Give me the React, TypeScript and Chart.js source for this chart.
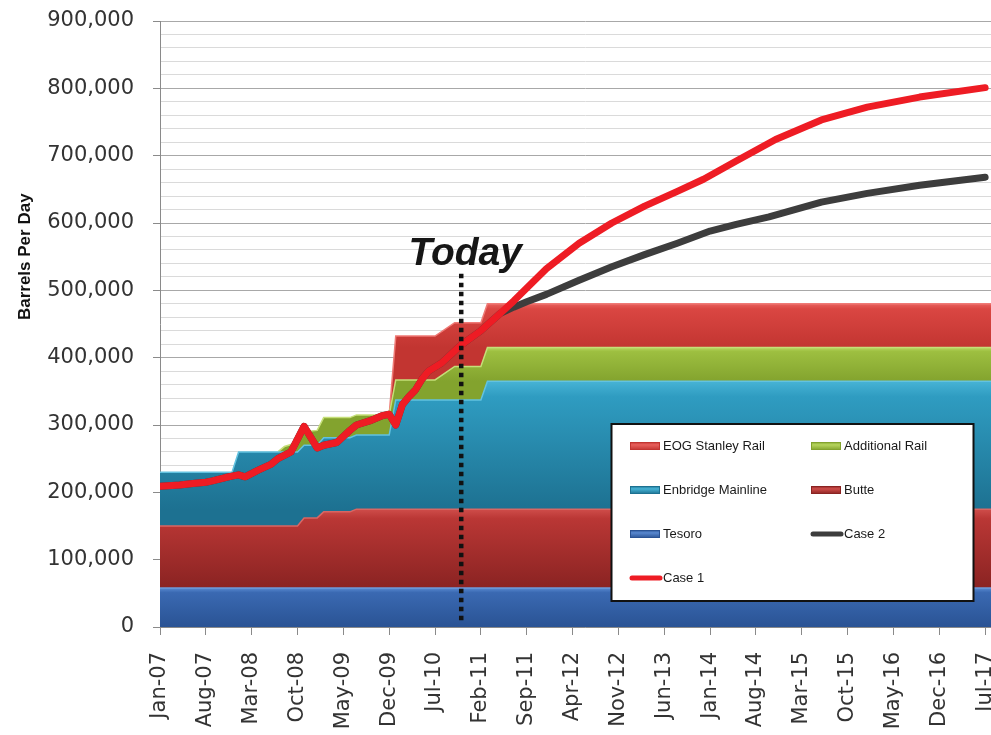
import React, { useEffect, useRef } from "react";
import { Chart, registerables } from "chart.js";

Chart.register(...registerables);

// ---- axis ticks ----
const tickMonths = [0, 7, 14, 21, 28, 35, 42, 49, 56, 63, 70, 77, 84, 91, 98, 105, 112, 119, 126];
const tickLabels = [
  "Jan-07", "Aug-07", "Mar-08", "Oct-08", "May-09", "Dec-09", "Jul-10", "Feb-11", "Sep-11",
  "Apr-12", "Nov-12", "Jun-13", "Jan-14", "Aug-14", "Mar-15", "Oct-15", "May-16", "Dec-16", "Jul-17",
];

// ---- stacked capacity areas (month index from Jan-07, barrels per day) ----
const areaMonths = [0, 11, 12, 18, 19, 21, 22, 24, 25, 29, 30, 35, 36, 42, 45, 49, 50, 127];
const tesoro = [58000, 58000, 58000, 58000, 58000, 58000, 58000, 58000, 58000, 58000, 58000, 58000, 58000, 58000, 58000, 58000, 58000, 58000];
const butte = [92000, 92000, 92000, 92000, 92000, 92000, 104000, 104000, 113000, 113000, 117000, 117000, 117000, 117000, 117000, 117000, 117000, 117000];
const enbridge = [80000, 80000, 110000, 110000, 110000, 110000, 108000, 108000, 110000, 110000, 110000, 110000, 162000, 162000, 162000, 162000, 190000, 190000];
const additionalRail = [0, 0, 0, 0, 8000, 14000, 20000, 22000, 30000, 30000, 30000, 30000, 30000, 30000, 50000, 50000, 50000, 50000];
const eogStanley = [0, 0, 0, 0, 0, 0, 0, 0, 0, 0, 0, 0, 65000, 65000, 65000, 65000, 65000, 65000];

// ---- production cases ----
const case1Months = [0, 3, 5, 7, 8, 10, 11, 12, 13, 15, 17, 18, 20, 22, 24, 25, 27, 29, 30, 32, 34, 35, 36, 37, 38, 39, 40, 41, 43, 46, 49, 52, 54, 59, 64, 69, 74, 79, 83, 88, 94, 101, 108, 116, 126];
const case1Values = [209000, 211000, 213000, 215000, 217000, 222000, 224000, 226000, 223000, 233000, 242000, 250000, 260000, 298000, 266000, 270000, 274000, 292000, 300000, 306000, 314000, 316000, 300000, 330000, 342000, 352000, 368000, 380000, 392000, 419000, 440000, 466000, 484000, 532000, 570000, 600000, 625000, 647000, 665000, 692000, 724000, 753000, 772000, 787000, 801000];
const case2Months = [0, 3, 5, 7, 8, 10, 11, 12, 13, 15, 17, 18, 20, 22, 24, 25, 27, 29, 30, 32, 34, 35, 36, 37, 38, 39, 40, 41, 43, 46, 49, 52, 54, 56, 59, 64, 69, 74, 79, 84, 88, 93, 101, 108, 116, 126];
const case2Values = [209000, 211000, 213000, 215000, 217000, 222000, 224000, 226000, 223000, 233000, 242000, 250000, 260000, 298000, 266000, 270000, 274000, 292000, 300000, 306000, 314000, 316000, 300000, 330000, 342000, 352000, 368000, 380000, 392000, 419000, 440000, 466000, 475000, 483000, 494000, 515000, 535000, 553000, 570000, 588000, 598000, 609000, 631000, 644000, 656000, 668000];

// ---- "Today" marker ----
const todayMonth = 46;
const todayRange = [10000, 530000];
const todayLabel = "Today";
const yTitle = "Barrels Per Day";

const legendOrder = ["EOG Stanley Rail", "Additional Rail", "Enbridge Mainline", "Butte", "Tesoro", "Case 2", "Case 1"];

const pts = (xs: number[], ys: number[]) => xs.map((x, i) => ({ x, y: ys[i] }));
const last = (a: number[]) => a[a.length - 1];

const bandStyles: Record<string, { light: string; mid: string; dark: string; edge: string }> = {
  Tesoro: { light: "#5888d0", mid: "#3a69b2", dark: "#2a5394", edge: "#6e9bdb" },
  Butte: { light: "#cf4d4a", mid: "#ba3735", dark: "#8a2322", edge: "#d86663" },
  "Enbridge Mainline": { light: "#47b3d5", mid: "#2f9cc1", dark: "#1d7191", edge: "#62c2e0" },
  "Additional Rail": { light: "#b6d55d", mid: "#9dbf40", dark: "#83a32e", edge: "#c5df78" },
  "EOG Stanley Rail": { light: "#e8605c", mid: "#da4642", dark: "#c23531", edge: "#ef7a76" },
};
const lineStyles: Record<string, string> = { "Case 1": "#ee1c24", "Case 2": "#3d3d3d" };

function bandFill(name: string, lo: number, hi: number) {
  const s = bandStyles[name];
  return (ctx: any) => {
    const chart = ctx.chart;
    const y = chart.scales && chart.scales.y;
    if (!chart.chartArea || !y) return s.mid;
    const top = y.getPixelForValue(hi);
    const bot = y.getPixelForValue(lo);
    const g = chart.ctx.createLinearGradient(0, top, 0, bot);
    g.addColorStop(0, s.light);
    g.addColorStop(0.12, s.mid);
    g.addColorStop(1, s.dark);
    return g;
  };
}

const hideZero = {
  borderColor: (c: any) => (c.p0.parsed.y === 0 && c.p1.parsed.y === 0 ? "rgba(0,0,0,0)" : undefined),
};

const overlayPlugin = {
  id: "overlay",
  afterDraw(chart: any) {
    const { ctx, chartArea, scales } = chart;
    const x = scales.x;
    const y = scales.y;
    ctx.save();

    // Today label
    const tx = x.getPixelForValue(todayMonth);
    const ty = y.getPixelForValue(todayRange[1]);
    ctx.font = "italic bold 39px 'Liberation Sans', Arial, sans-serif";
    ctx.fillStyle = "#161616";
    ctx.textAlign = "center";
    ctx.textBaseline = "alphabetic";
    ctx.fillText(todayLabel, tx + 4, ty - 5);

    // Y axis title
    ctx.save();
    ctx.translate(25, chartArea.top + (chartArea.bottom - chartArea.top) * 0.389);
    ctx.rotate(-Math.PI / 2);
    ctx.font = "bold 17px 'Liberation Sans', Arial, sans-serif";
    ctx.fillStyle = "#111";
    ctx.textAlign = "center";
    ctx.textBaseline = "middle";
    ctx.fillText(yTitle, 0, 0);
    ctx.restore();

    // Legend box
    const bx = 611.5, by = 424, bw = 362, bh = 177;
    ctx.fillStyle = "#ffffff";
    ctx.fillRect(bx, by, bw, bh);
    ctx.lineWidth = 2;
    ctx.strokeStyle = "#111";
    ctx.strokeRect(bx, by, bw, bh);

    const colX = [630, 811];
    const rowY = [446, 490, 534, 578];
    ctx.font = "13px 'Liberation Sans', Arial, sans-serif";
    ctx.textAlign = "left";
    ctx.textBaseline = "middle";
    legendOrder.forEach((label, i) => {
      const lx = colX[i % 2];
      const ly = rowY[Math.floor(i / 2)];
      if (bandStyles[label]) {
        const s = bandStyles[label];
        const g = ctx.createLinearGradient(0, ly - 4, 0, ly + 4);
        g.addColorStop(0, s.dark);
        g.addColorStop(0.35, s.light);
        g.addColorStop(1, s.dark);
        ctx.fillStyle = g;
        ctx.fillRect(lx, ly - 4, 30, 8);
        ctx.lineWidth = 1;
        ctx.strokeStyle = s.dark;
        ctx.strokeRect(lx + 0.5, ly - 3.5, 29, 7);
        ctx.fillStyle = "#1a1a1a";
        ctx.fillText(label, lx + 33, ly);
      } else {
        ctx.beginPath();
        ctx.lineCap = "round";
        ctx.lineWidth = 5;
        ctx.strokeStyle = lineStyles[label];
        ctx.moveTo(lx + 2, ly);
        ctx.lineTo(lx + 30, ly);
        ctx.stroke();
        ctx.fillStyle = "#1a1a1a";
        ctx.fillText(label, lx + 33, ly);
      }
    });
    ctx.restore();
  },
};

export default function App() {
  const ref = useRef<HTMLCanvasElement | null>(null);

  useEffect(() => {
    document.body.style.margin = "0";
    if (!ref.current) return;

    const cum1 = last(tesoro);
    const cum2 = cum1 + last(butte);
    const cum3 = cum2 + last(enbridge);
    const cum4 = cum3 + last(additionalRail);
    const cum5 = cum4 + last(eogStanley);

    const area = (label: string, values: number[], fill: any, lo: number, hi: number) => ({
      label,
      data: pts(areaMonths, values),
      stack: "supply",
      fill,
      backgroundColor: bandFill(label, lo, hi),
      borderColor: bandStyles[label].edge,
      borderWidth: 1.5,
      pointRadius: 0,
      tension: 0,
      segment: hideZero,
    });

    const chart = new Chart(ref.current, {
      type: "line",
      data: {
        datasets: [
          area("Tesoro", tesoro, "origin", 0, cum1),
          area("Butte", butte, "-1", cum1, cum2),
          area("Enbridge Mainline", enbridge, "-1", cum2, cum3),
          area("Additional Rail", additionalRail, "-1", cum3, cum4),
          area("EOG Stanley Rail", eogStanley, "-1", cum4, cum5),
          {
            label: "Case 2",
            data: pts(case2Months, case2Values),
            stack: "case2",
            fill: false,
            borderColor: lineStyles["Case 2"],
            borderWidth: 7,
            borderCapStyle: "round",
            borderJoinStyle: "round",
            pointRadius: 0,
            tension: 0,
            order: -2,
          },
          {
            label: "Case 1",
            data: pts(case1Months, case1Values),
            stack: "case1",
            fill: false,
            borderColor: lineStyles["Case 1"],
            borderWidth: 7,
            borderCapStyle: "round",
            borderJoinStyle: "round",
            pointRadius: 0,
            tension: 0,
            order: -3,
          },
          {
            label: "Today",
            data: [
              { x: todayMonth, y: todayRange[0] },
              { x: todayMonth, y: todayRange[1] },
            ],
            stack: "today",
            fill: false,
            borderColor: "#111111",
            borderWidth: 4.5,
            borderDash: [4.5, 4.5],
            pointRadius: 0,
            order: -4,
          },
        ],
      } as any,
      options: {
        responsive: false,
        animation: false,
        events: [],
        layout: { padding: { top: 21, left: 0, right: 0, bottom: 0 } },
        plugins: {
          legend: { display: false },
          tooltip: { enabled: false },
        },
        scales: {
          x: {
            type: "linear",
            min: 0,
            max: 129.8,
            afterBuildTicks: (scale: any) => {
              scale.ticks = tickMonths.map((v) => ({ value: v }));
            },
            afterFit: (scale: any) => {
              scale.height = 108;
              scale.paddingLeft = 0;
              scale.paddingRight = 0;
            },
            ticks: {
              autoSkip: false,
              minRotation: 90,
              maxRotation: 90,
              padding: 17,
              color: "#333333",
              font: { family: "'DejaVu Sans'", size: 21 },
              callback: (_v: any, i: number) => tickLabels[i],
            },
            grid: {
              drawOnChartArea: false,
              drawTicks: true,
              tickLength: 8,
              color: "#8a8a8a",
            },
            border: { display: true, color: "#8a8a8a", width: 1 },
          },
          y: {
            type: "linear",
            stacked: true,
            min: 0,
            max: 900000,
            afterFit: (scale: any) => {
              scale.width = 160;
              scale.paddingTop = 0;
              scale.paddingBottom = 0;
            },
            ticks: {
              stepSize: 20000,
              autoSkip: false,
              padding: 19,
              color: "#333333",
              font: { family: "'DejaVu Sans'", size: 21 },
              callback: (v: any) => (Number(v) % 100000 === 0 ? Number(v).toLocaleString("en-US") : ""),
            },
            grid: {
              color: (c: any) => (c.tick && c.tick.value % 100000 === 0 ? "#a8a8a8" : "#dadada"),
              tickColor: (c: any) => (c.tick && c.tick.value % 100000 === 0 ? "#8a8a8a" : "rgba(0,0,0,0)"),
              tickLength: 7,
              lineWidth: 1,
            },
            border: { display: true, color: "#8a8a8a", width: 1 },
          },
        },
      },
      plugins: [overlayPlugin],
    } as any);

    return () => chart.destroy();
  }, []);

  return (
    <div style={{ position: "absolute", left: 0, top: 0, width: 991, height: 735, overflow: "hidden", background: "#fff" }}>
      <canvas ref={ref} width={1010} height={735} style={{ width: 1010, height: 735, display: "block" }} />
    </div>
  );
}
